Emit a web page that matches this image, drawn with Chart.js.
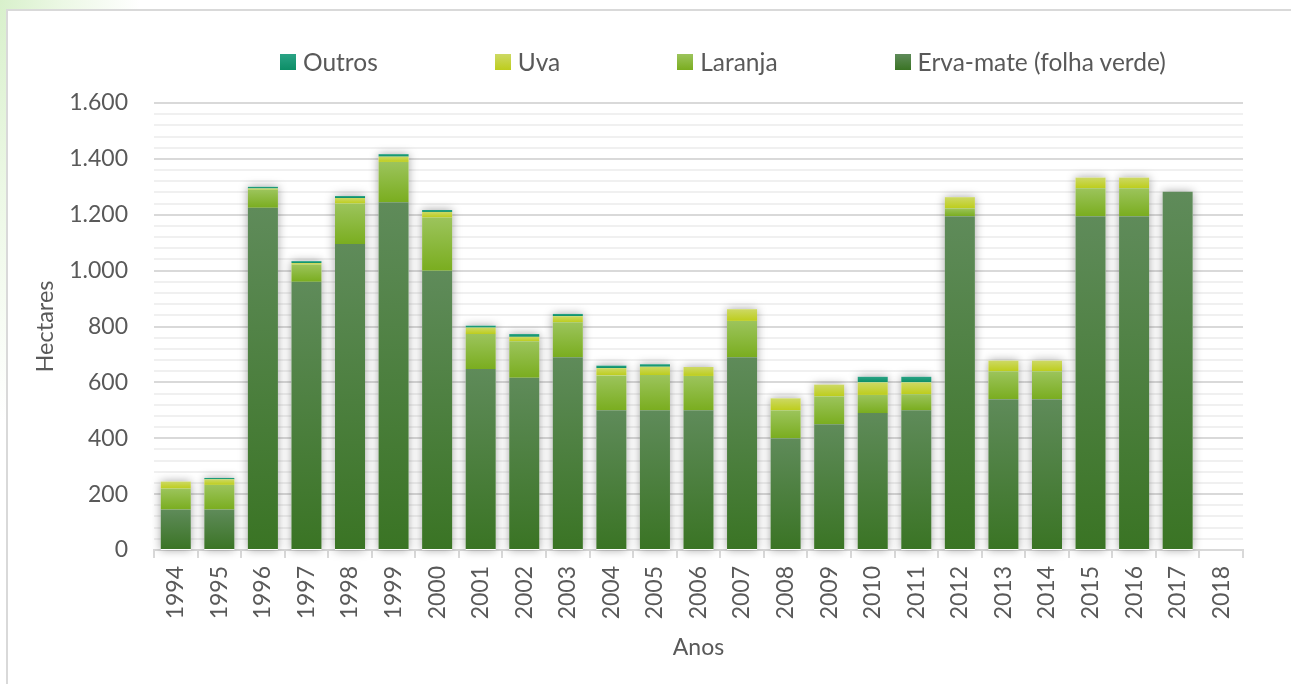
<!DOCTYPE html>
<html>
<head>
<meta charset="utf-8">
<script src="https://cdn.jsdelivr.net/npm/chart.js@4.4.1/dist/chart.umd.min.js"></script>
<style>
  html, body { margin: 0; padding: 0; }
  body {
    width: 1291px; height: 684px; overflow: hidden; position: relative;
    background: radial-gradient(ellipse 140px 420px at 0 0, #d8f0cb 0%, #ecf8e5 45%, #ffffff 100%);
    font-family: Lato, "Open Sans", sans-serif;
  }
  #frame {
    position: absolute; left: 6px; top: 9px; width: 1320px; height: 720px;
    border: 2px solid #d9d9d9; background: #ffffff; box-sizing: border-box;
  }
  #chart { position: absolute; left: 0; top: 0; }
  #legend {
    position: absolute; left: 280px; top: 47px; display: flex; gap: 117px;
    align-items: center; color: #595959; font-size: 24.5px; white-space: nowrap;
  }
  #legend .item { display: flex; align-items: center; gap: 7px; }
  #legend .box { width: 16px; height: 16px; display: inline-block; }
</style>
</head>
<body>
<div id="frame"></div>
<canvas id="chart" width="1291" height="684"></canvas>
<div id="legend"></div>
<script>
// ---- data ----
const years = ['1994','1995','1996','1997','1998','1999','2000','2001','2002','2003','2004','2005','2006','2007','2008','2009','2010','2011','2012','2013','2014','2015','2016','2017','2018'];
const ervaMate = [145,145,1225,960,1095,1245,1000,648,617,690,500,500,500,690,400,450,490,500,1195,540,540,1195,1195,1282,null];
const laranja  = [75,88,65,62,145,144,190,125,130,125,125,126,123,130,100,100,65,58,28,100,100,100,100,0,null];
const uva      = [25,20,4,5,20,19,20,23,16,22,26,30,32,42,43,42,45,42,40,38,38,38,38,0,null];
const outros   = [0,5,6,7,7,9,7,7,10,8,9,9,0,0,0,0,20,20,0,0,0,0,0,0,null];
const seriesNames = ['Erva-mate (folha verde)','Laranja','Uva','Outros'];
const yTickValues = [0,200,400,600,800,1000,1200,1400,1600];

// ---- colours (top, bottom of gradient) ----
const palette = [
  ['#5f8b5a','#3a7424'],
  ['#9cc45c','#7aad1f'],
  ['#cdd964','#bdcd1c'],
  ['#2aa385','#0c8e66']
];
const seriesValues = [ervaMate, laranja, uva, outros];

function segGradient(c, di) {
  const chart = c.chart;
  const y = chart.scales && chart.scales.y;
  if (c.type !== 'data' || !y) return palette[di][1];
  const i = c.dataIndex;
  let start = 0;
  for (let k = 0; k < di; k++) start += (seriesValues[k][i] || 0);
  const v = seriesValues[di][i] || 0;
  const y0 = y.getPixelForValue(start), y1 = y.getPixelForValue(start + v);
  if (!isFinite(y0) || !isFinite(y1) || y0 === y1) return palette[di][1];
  const g = chart.ctx.createLinearGradient(0, y1, 0, y0);
  g.addColorStop(0, palette[di][0]);
  g.addColorStop(1, palette[di][1]);
  return g;
}

function fmt(v) { return String(v).replace(/\B(?=(\d{3})+(?!\d))/g, '.'); }

const shadowPlugin = {
  id: 'stackShadow',
  beforeDatasetsDraw(chart) {
    const ctx = chart.ctx, y = chart.scales.y;
    const meta = chart.getDatasetMeta(0);
    ctx.save();
    ctx.shadowColor = 'rgba(0,0,0,0.36)';
    ctx.shadowBlur = 10;
    ctx.fillStyle = '#ffffff';
    years.forEach((_, i) => {
      let total = 0;
      seriesValues.forEach(s => total += (s[i] || 0));
      if (!total) return;
      const bar = meta.data[i];
      const top = y.getPixelForValue(total), base = y.getPixelForValue(0);
      ctx.fillRect(bar.x - bar.width / 2, top, bar.width, base - top);
    });
    ctx.restore();
  }
};

function buildLegend() {
  const el = document.getElementById('legend');
  el.innerHTML = '';
  for (let di = seriesNames.length - 1; di >= 0; di--) {
    const item = document.createElement('div');
    item.className = 'item';
    const box = document.createElement('span');
    box.className = 'box';
    box.style.background = 'linear-gradient(' + palette[di][0] + ',' + palette[di][1] + ')';
    const t = document.createElement('span');
    t.textContent = seriesNames[di];
    item.appendChild(box); item.appendChild(t);
    el.appendChild(item);
  }
}

function draw() {
  buildLegend();
  const font = { family: 'Lato, "Open Sans", sans-serif', size: 23 };
  new Chart(document.getElementById('chart'), {
    type: 'bar',
    data: {
      labels: years,
      datasets: seriesNames.map((name, di) => ({
        label: name,
        data: seriesValues[di],
        backgroundColor: c => segGradient(c, di),
        borderWidth: 0,
        barPercentage: 0.69,
        categoryPercentage: 1.0
      }))
    },
    options: {
      responsive: false,
      animation: false,
      layout: { padding: { top: 103, left: 10, right: 48, bottom: 0 } },
      plugins: { legend: { display: false }, tooltip: { enabled: false } },
      scales: {
        x: {
          stacked: true,
          grid: { display: true, drawOnChartArea: false, offset: true, tickLength: 8, color: '#d9d9d9', lineWidth: 2 },
          border: { display: true, color: '#d9d9d9', width: 2 },
          ticks: { minRotation: 90, maxRotation: 90, autoSkip: false, padding: 8, color: '#595959', font: font },
          title: { display: true, text: 'Anos', color: '#595959', font: { family: font.family, size: 23 }, padding: { top: 0, bottom: 23 } },
          afterFit: s => { s.height = 134; }
        },
        y: {
          stacked: true,
          min: 0, max: 1600,
          grid: {
            drawTicks: false,
            color: c => (c.tick && yTickValues.includes(c.tick.value)) ? '#d9d9d9' : '#f0f0f0',
            lineWidth: 2
          },
          border: { display: false },
          ticks: {
            stepSize: 40, autoSkip: false, padding: 26, color: '#595959', font: font,
            callback: v => yTickValues.includes(v) ? fmt(v) : ''
          },
          title: { display: true, text: 'Hectares', color: '#595959', font: { family: font.family, size: 23.5 }, padding: { top: 21, bottom: 0 } },
          afterFit: s => { s.width = 144; }
        }
      }
    },
    plugins: [shadowPlugin]
  });
}

if (document.fonts && document.fonts.load) {
  Promise.all([document.fonts.load('23px Lato')]).then(draw, draw);
} else { draw(); }
</script>
</body>
</html>
